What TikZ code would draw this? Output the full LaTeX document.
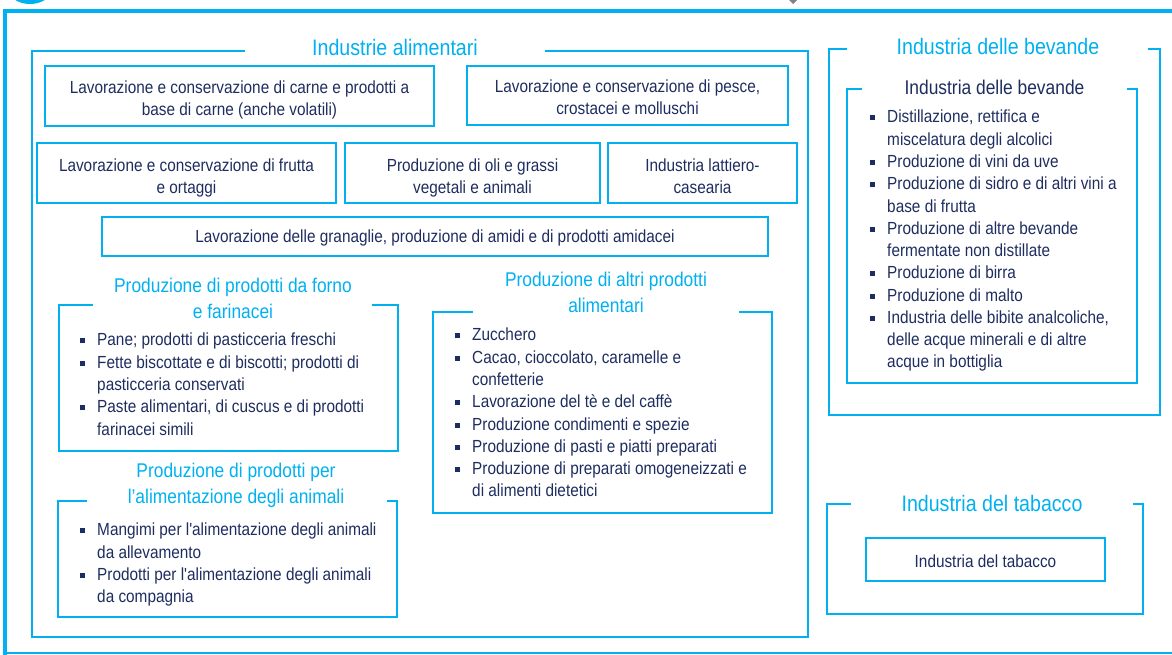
\documentclass[tikz,border=0pt]{standalone}
\usepackage{fontspec}
\newfontfamily\lib{Liberation Sans}[FakeStretch=0.875]
\definecolor{cy}{HTML}{00B0F0}
\definecolor{nv}{HTML}{1E2D5F}
\definecolor{gr}{HTML}{808080}
\newcommand\bodyfont{\lib\fontsize{13.15}{16.7}\selectfont}
\newcommand\titlefont{\lib\fontsize{16.8}{20}\selectfont}
\newcommand\subfont{\lib\fontsize{14.9}{19.5}\selectfont}
\newcommand\sq{\raisebox{1.9pt}{\rule{3.75pt}{3.75pt}}}
\newcommand\ctext[2][2.5pt]{\raisebox{-#1}[\height][\depth]{\begin{tabular}{@{}c@{}}#2\end{tabular}}}
\newenvironment{blist}{\begin{tabular}[t]{@{}p{13.1pt}@{}l@{}}}{\end{tabular}}
\tikzset{
  box/.style={draw=cy, line width=1.5pt, inner sep=0pt, align=center, text=nv, font=\bodyfont},
  frame/.style={draw=cy, line width=1.5pt},
  ttl/.style={text=cy, font=\titlefont, inner sep=0pt},
  sub/.style={text=cy, font=\subfont, align=center, inner sep=0pt},
  subnv/.style={text=nv, font=\subfont, inner sep=0pt},
  lst/.style={text=nv, font=\bodyfont, inner sep=0pt, anchor=base west},
}
\begin{document}
\begin{tikzpicture}[x=0.75pt, y=-0.75pt]
\useasboundingbox (0,0) rectangle (1172,655);
\clip (0,0) rectangle (1172,655);
% page decorations
\fill[cy] (30,-26) circle[radius=22.5pt];
\fill[gr] (789,0) -- (797,0) -- (793,4) -- cycle;
\draw[cy, line width=3pt, line join=miter] (4.5,656) -- (4.5,11.5) -- (1173,11.5);
\draw[cy, line width=1.5pt] (3,653.5) -- (1173,653.5);

% ---------------- Industrie alimentari
\draw[frame] (245,51) -- (32,51) -- (32,637) -- (808,637) -- (808,51) -- (545,51);
\node[ttl] (tfood) at (395,48) {Industrie alimentari};

\node[box, minimum width=291.75pt, minimum height=45pt] (b1) at (239.5,96.5) {\ctext{Lavorazione e conservazione di carne e prodotti a\\base di carne (anche volatili)}};
\node[box, minimum width=240.75pt, minimum height=44.25pt] (b2) at (627.5,95.5) {\ctext{Lavorazione e conservazione di pesce,\\crostacei e molluschi}};
\node[box, minimum width=224.25pt, minimum height=45pt] (b3) at (186.5,173) {\ctext[3.8pt]{Lavorazione e conservazione di frutta\\e ortaggi}};
\node[box, minimum width=191.25pt, minimum height=45pt] (b4) at (472.5,173) {\ctext[3.8pt]{Produzione di oli e grassi\\vegetali e animali}};
\node[box, minimum width=141.75pt, minimum height=45pt] (b5) at (702.5,173) {\ctext[3.8pt]{Industria lattiero-\\casearia}};
\node[box, minimum width=499.5pt, minimum height=29.25pt] (b6) at (435,236.5) {\ctext[1pt]{Lavorazione delle granaglie, produzione di amidi e di prodotti amidacei}};

% forno
\draw[frame] (93,305) -- (59,305) -- (59,451) -- (398,451) -- (398,305) -- (372,305);
\node[sub] (tforno) at (233,298) {Produzione di prodotti da forno\\e farinacei};
\node[lst] (lforno) at (79.5,346) {\begin{blist}
\sq & Pane; prodotti di pasticceria freschi\\
\sq & Fette biscottate e di biscotti; prodotti di\\
    & pasticceria conservati\\
\sq & Paste alimentari, di cuscus e di prodotti\\
    & farinacei simili
\end{blist}};

% animali
\draw[frame] (87,501) -- (58,501) -- (58,617) -- (397,617) -- (397,501) -- (387,501);
\node[sub] (tanim) at (236,485.5) {Produzione di prodotti per\\l’alimentazione degli animali};
\node[lst] (lanim) at (79.5,536) {\begin{blist}
\sq & Mangimi per l'alimentazione degli animali\\
    & da allevamento\\
\sq & Prodotti per l'alimentazione degli animali\\
    & da compagnia
\end{blist}};

% altri
\draw[frame] (473,312) -- (433,312) -- (433,513) -- (772,513) -- (772,312) -- (739,312);
\node[sub] (taltri) at (606,292) {Produzione di altri prodotti\\alimentari};
\node[lst] (laltri) at (454.5,341) {\begin{blist}
\sq & Zucchero\\
\sq & Cacao, cioccolato, caramelle e\\
    & confetterie\\
\sq & Lavorazione del tè e del caffè\\
\sq & Produzione condimenti e spezie\\
\sq & Produzione di pasti e piatti preparati\\
\sq & Produzione di preparati omogeneizzati e\\
    & di alimenti dietetici
\end{blist}};

% ---------------- Industria delle bevande
\draw[frame] (847,49) -- (829,49) -- (829,415) -- (1160,415) -- (1160,49) -- (1148,49);
\node[ttl] (tbev) at (998,47) {Industria delle bevande};
\draw[frame] (862,89) -- (847,89) -- (847,383) -- (1137,383) -- (1137,89) -- (1127,89);
\node[subnv] (tbevin) at (994.5,87) {Industria delle bevande};
\node[lst] (lbev) at (869.5,123) {\begin{blist}
\sq & Distillazione, rettifica e\\
    & miscelatura degli alcolici\\
\sq & Produzione di vini da uve\\
\sq & Produzione di sidro e di altri vini a\\
    & base di frutta\\
\sq & Produzione di altre bevande\\
    & fermentate non distillate\\
\sq & Produzione di birra\\
\sq & Produzione di malto\\
\sq & Industria delle bibite analcoliche,\\
    & delle acque minerali e di altre\\
    & acque in bottiglia
\end{blist}};

% ---------------- Industria del tabacco
\draw[frame] (851,504) -- (827,504) -- (827,614) -- (1143,614) -- (1143,504) -- (1133,504);
\node[ttl] (ttab) at (992,503) {Industria del tabacco};
\node[box, minimum width=179.25pt, minimum height=32.25pt] (btab) at (985.5,559.5) {\ctext[2.5pt]{Industria del tabacco}};
\end{tikzpicture}
\end{document}
